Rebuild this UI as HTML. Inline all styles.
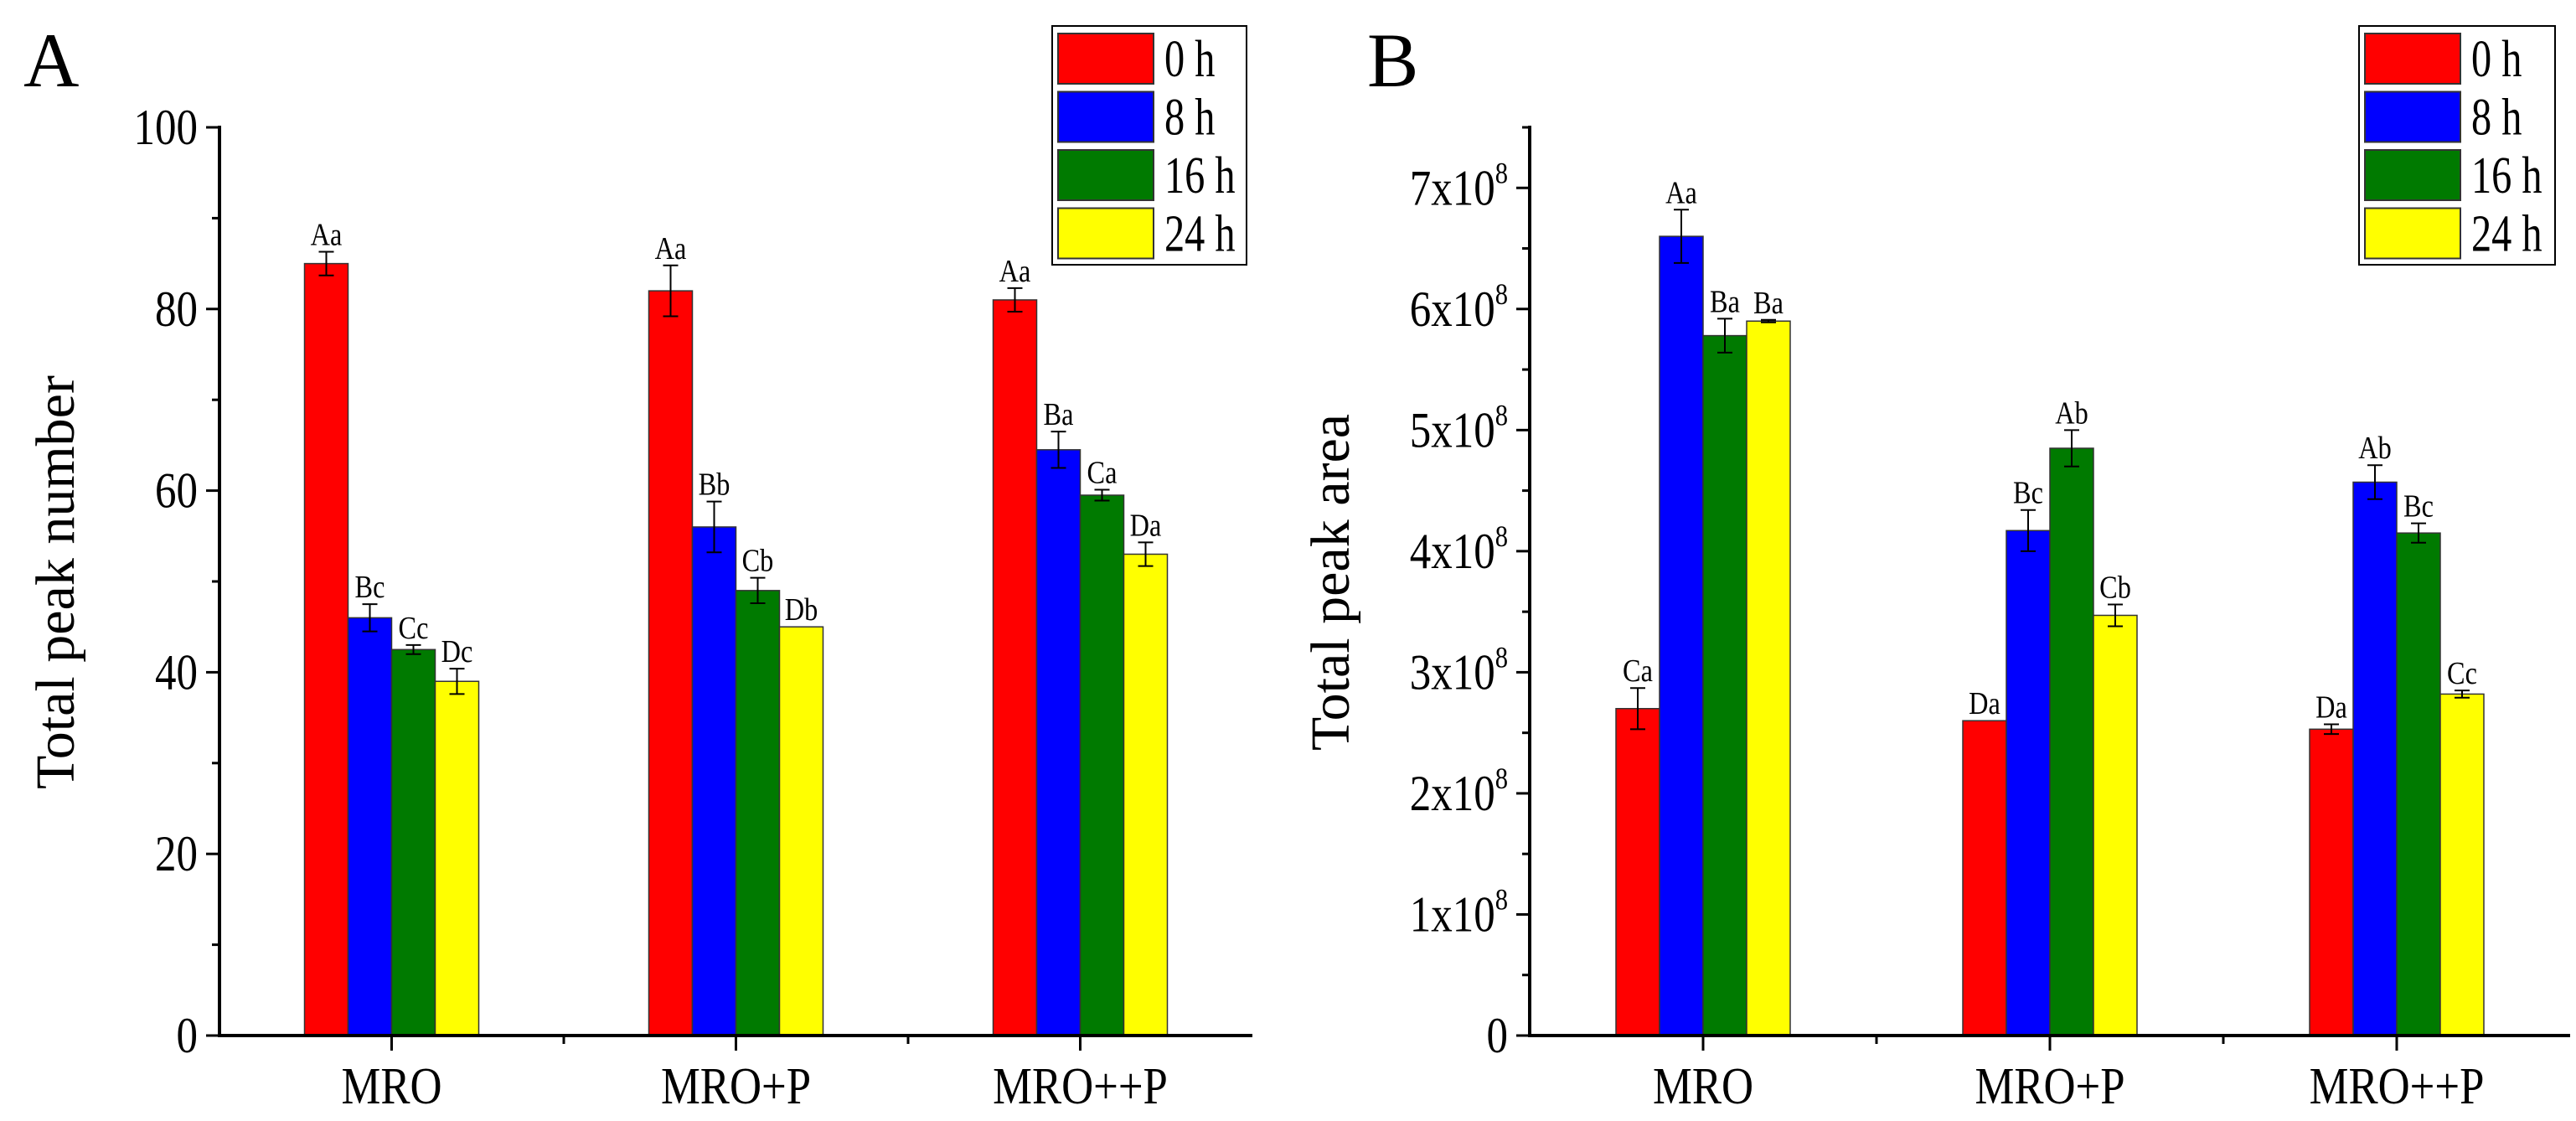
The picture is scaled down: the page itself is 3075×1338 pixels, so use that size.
<!DOCTYPE html>
<html><head><meta charset="utf-8"><style>
html,body{margin:0;padding:0;background:#fff;}
svg{display:block;}
svg text{font-family:"Liberation Serif","DejaVu Serif",serif;}
</style></head><body>
<svg id="chart" width="3075" height="1338" viewBox="0 0 3075 1338" xmlns="http://www.w3.org/2000/svg" font-family="Liberation Serif, serif"></svg>
<script>
const categories = ["MRO","MRO+P","MRO++P"];
const seriesNames = ["0 h","8 h","16 h","24 h"];
const colors = ["#ff0000","#0000ff","#007a00","#ffff00"];
// Panel A: total peak number
const aValues = [[85,82,81],[46,56,64.5],[42.5,49,59.5],[39,45,53]];
const aErrors = [[1.3,2.8,1.3],[1.5,2.8,2],[0.5,1.4,0.6],[1.4,0,1.3]];
const aLetters = [["Aa","Aa","Aa"],["Bc","Bb","Ba"],["Cc","Cb","Ca"],["Dc","Db","Da"]];
const aTicks = [0,20,40,60,80,100];
// Panel B: total peak area (x1e8)
const bValues = [[2.7,2.6,2.53],[6.6,4.17,4.57],[5.78,4.85,4.15],[5.9,3.47,2.82]];
const bErrors = [[0.17,0,0.04],[0.22,0.17,0.14],[0.14,0.15,0.08],[0.01,0.09,0.03]];
const bLetters = [["Ca","Da","Da"],["Aa","Bc","Ab"],["Ba","Ab","Bc"],["Ba","Cb","Cc"]];
const bTicks = [0,1,2,3,4,5,6,7];

const NS="http://www.w3.org/2000/svg";
const svg=document.getElementById('chart');
const FF='Liberation Serif, serif';
function mk(tag,attrs,parent,text){const e=document.createElementNS(NS,tag);for(const k in attrs)e.setAttribute(k,attrs[k]);if(tag==='text')e.setAttribute('font-family',FF);if(text!==undefined)e.textContent=text;(parent||svg).appendChild(e);return e;}
function squeeze(t,f){ // horizontal condensing like the reference
  const x=+t.getAttribute('x'),y=+t.getAttribute('y');
  const prev=t.getAttribute('transform')||'';
  t.setAttribute('transform',prev+` translate(${x} ${y}) scale(${f} 1) translate(${-x} ${-y})`);
}

function panel(cfg){
  const g=mk('g',{});
  
  
  const {x0,x1,y0,y1,max}=cfg;
  const ys=v=>y0-(v/max)*(y0-y1);
  const band=(x1-x0)/categories.length;
  const xc=i=>x0+band*(i+0.5);
  const bw=52;
  const pl=mk('text',{x:cfg.lx,y:103,'font-size':92},g,cfg.letter);
  
  
  cfg.values.forEach((ser,s)=>{
    ser.forEach((v,i)=>{
      const bx=xc(i)-2*bw+s*bw;
      const r=mk('rect',{x:bx,y:ys(v),width:bw,height:y0-ys(v),fill:colors[s],stroke:'#333',"stroke-width":1.5},g);
      
      
      const e=cfg.errors[s][i];const cx=bx+bw/2;
      if(e>0){
        const eg=mk('g',{stroke:'#000','stroke-width':2},g);
        
        
        mk('line',{x1:cx,x2:cx,y1:ys(v+e),y2:ys(v-e)},eg);
        mk('line',{x1:cx-9,x2:cx+9,y1:ys(v+e),y2:ys(v+e)},eg);
        mk('line',{x1:cx-9,x2:cx+9,y1:ys(v-e),y2:ys(v-e)},eg);
      }
      const t=mk('text',{x:cx,y:ys(v+e)-8,'font-size':38,'text-anchor':'middle'},g,cfg.letters[s][i]);
      squeeze(t,0.85);
      
      
    });
  });
  const ax=mk('g',{stroke:'#000','stroke-width':4,fill:'none'},g);
  
  
  mk('line',{x1:x0,x2:x0,y1:y1-2,y2:y0+2},ax);
  mk('line',{x1:x0-2,x2:x1,y1:y0,y2:y0},ax);
  cfg.ticks.forEach((t,k)=>{
    const y=ys(t);
    mk('line',{x1:x0-16,x2:x0,y1:y,y2:y,stroke:'#000','stroke-width':3},g);
    if(k<cfg.ticks.length-1||cfg.minorTop){const ym=ys(t+cfg.step/2);mk('line',{x1:x0-9,x2:x0,y1:ym,y2:ym,stroke:'#000','stroke-width':3},g);}
    const tx=mk('text',{x:x0-26,y:y+20,'font-size':60,'text-anchor':'end'},g);
    
    
    if(cfg.sci && t!==0){tx.textContent=t+'x10';const ts=mk('tspan',{'font-size':36,dy:-26},tx,'8');}
    else tx.textContent=t;
    squeeze(tx,0.85);
  });
  categories.forEach((c,i)=>{
    mk('line',{x1:xc(i),x2:xc(i),y1:y0,y2:y0+18,stroke:'#000','stroke-width':3},g);
    if(i>0)mk('line',{x1:x0+band*i,x2:x0+band*i,y1:y0,y2:y0+10,stroke:'#000','stroke-width':3},g);
    const t=mk('text',{x:xc(i),y:1317,'font-size':62,'text-anchor':'middle'},g,c);
    squeeze(t,0.85);
    
    
  });
  const yt=mk('text',{x:cfg.tx,y:695,'font-size':66,'text-anchor':'middle',transform:`rotate(-90 ${cfg.tx} 695)`},g,cfg.title);
  
  
  const lg=mk('g',{},g);
  
  
  mk('rect',{x:cfg.legX,y:31,width:cfg.legW,height:285,fill:'#fff',stroke:'#000','stroke-width':2},lg);
  seriesNames.forEach((n,s)=>{
    const ey=40+s*69.5;
    const le=mk('g',{},lg);
    
    
    mk('rect',{x:cfg.legX+7,y:ey,width:114,height:60,fill:colors[s],stroke:'#333','stroke-width':2},le);
    const t=mk('text',{x:cfg.legX+134,y:ey+51,'font-size':62},le,n);
    squeeze(t,0.78);
  });
}
panel({name:'panel-a',letter:'A',lx:28,x0:262,x1:1495,y0:1236,y1:152,max:100,step:20,ticks:aTicks,values:aValues,errors:aErrors,letters:aLetters,title:'Total peak number',tx:88,legX:1256,legW:232,sci:false,minorTop:false});
panel({name:'panel-b',letter:'B',lx:1632,x0:1826,x1:3068,y0:1236,y1:152,max:7.5,step:1,ticks:bTicks,values:bValues,errors:bErrors,letters:bLetters,title:'Total peak area',tx:1610,legX:2816,legW:234,sci:true,minorTop:true});
</script>
</body></html>
